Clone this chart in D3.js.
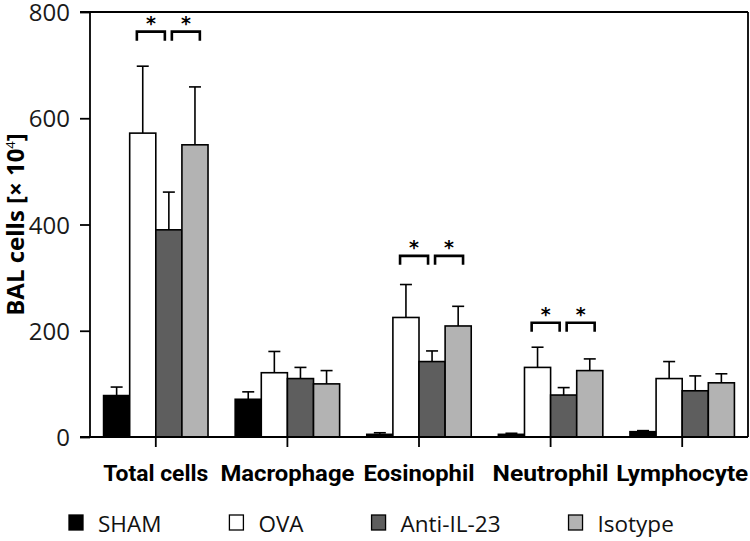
<!DOCTYPE html>
<html>
<head>
<meta charset="utf-8">
<script src="https://cdn.jsdelivr.net/npm/d3@7"></script>
<style>
  html, body { margin: 0; padding: 0; background: #fff; }
  svg { display: block; }
</style>
</head>
<body>
<svg id="chart" width="750" height="541"></svg>
<script>
// ---- data ----
const categories = ["Total cells", "Macrophage", "Eosinophil", "Neutrophil", "Lymphocyte"];
const seriesNames = ["SHAM", "OVA", "Anti-IL-23", "Isotype"];
const shamMean = [78, 71, 5, 5, 10];
const shamErrTop = [94, 85, 8, 7, 12];
const ovaMean = [572, 121, 225, 131, 110];
const ovaErrTop = [698, 161, 287, 169, 142];
const antiMean = [390, 110, 142, 79, 87];
const antiErrTop = [461, 131, 162, 93, 115];
const isoMean = [550, 100, 209, 125, 102];
const isoErrTop = [659, 125, 246, 147, 119];
const yTicks = [0, 200, 400, 600, 800];
const sigCategories = ["Total cells", "Eosinophil", "Neutrophil"];
const sigLevels = [763, 341, 215];

// ---- styles ----
const fills = ["#000000", "#ffffff", "#5e5e5e", "#b3b3b3"];
const means = [shamMean, ovaMean, antiMean, isoMean];
const errTops = [shamErrTop, ovaErrTop, antiErrTop, isoErrTop];

const svg = d3.select("#chart");
const mLeft = 90, mRight = 748, mTop = 12, mBottom = 437;

const x = d3.scaleBand().domain(categories).range([mLeft, mRight]).paddingInner(0).paddingOuter(0);
const xs = d3.scaleBand().domain(seriesNames).range([0, x.bandwidth()]).paddingInner(0).paddingOuter(0.52);
const y = d3.scaleLinear().domain([0, 800]).range([mBottom, mTop]);

const rows = [];
categories.forEach((c, ci) => {
  seriesNames.forEach((s, si) => {
    rows.push({ cat: c, ser: s, si, v: means[si][ci], e: errTops[si][ci] });
  });
});

// error bars (drawn behind bars)
const eg = svg.append("g").attr("stroke", "#000").attr("stroke-width", 1.6);
rows.forEach(d => {
  const cx = x(d.cat) + xs(d.ser) + xs.bandwidth() / 2;
  eg.append("line").attr("x1", cx).attr("x2", cx).attr("y1", y(d.v)).attr("y2", y(d.e));
  eg.append("line").attr("x1", cx - 6).attr("x2", cx + 6).attr("y1", y(d.e)).attr("y2", y(d.e));
});

// bars
svg.append("g").selectAll("rect").data(rows).join("rect")
  .attr("x", d => x(d.cat) + xs(d.ser))
  .attr("y", d => y(d.v))
  .attr("width", xs.bandwidth())
  .attr("height", d => y(0) - y(d.v))
  .attr("fill", d => fills[d.si])
  .attr("stroke", "#000")
  .attr("stroke-width", 1.6);

// frame / axes
const ax = svg.append("g").attr("stroke", "#000").attr("stroke-width", 1.8).attr("fill", "none");
ax.append("line").attr("x1", mLeft).attr("x2", mLeft).attr("y1", mTop).attr("y2", mBottom);
ax.append("line").attr("x1", mLeft - 10).attr("x2", mRight).attr("y1", mTop).attr("y2", mTop);
ax.append("line").attr("x1", mRight).attr("x2", mRight).attr("y1", mTop).attr("y2", mBottom);
ax.append("line").attr("x1", mLeft - 10).attr("x2", mRight).attr("y1", mBottom).attr("y2", mBottom);

// y axis
const yAxis = svg.append("g").attr("transform", `translate(${mLeft},0)`)
  .call(d3.axisLeft(y).tickValues(yTicks).tickSize(10).tickPadding(10).tickFormat(d3.format("d")));
yAxis.select(".domain").remove();
yAxis.selectAll(".tick line").attr("stroke", "#000").attr("stroke-width", 1.8);
yAxis.selectAll(".tick text")
  .attr("font-family", "'Open Sans', 'Noto Sans', sans-serif")
  .attr("font-size", 24).attr("font-weight", 400).attr("fill", "#1a1a1a")
  .attr("dy", "0.36em");

// x axis
const xAxis = svg.append("g").attr("transform", `translate(0,${mBottom})`)
  .call(d3.axisBottom(x).tickSize(10).tickPadding(18));
xAxis.select(".domain").remove();
xAxis.selectAll(".tick line").attr("stroke", "#000").attr("stroke-width", 1.8);
const catWidths = { "Total cells": 105, "Macrophage": 134, "Eosinophil": 111, "Neutrophil": 116, "Lymphocyte": 132 };
xAxis.selectAll(".tick text")
  .attr("font-family", "'Liberation Sans Narrow', 'Roboto', sans-serif")
  .attr("font-size", 22).attr("font-weight", "bold").attr("fill", "#000")
  .attr("textLength", d => catWidths[d]).attr("lengthAdjust", "spacingAndGlyphs");

// y title
const yt = svg.append("text")
  .attr("transform", `translate(24,${(mTop + mBottom) / 2}) rotate(-90)`)
  .attr("text-anchor", "middle")
  .attr("font-family", "'Open Sans', 'Noto Sans', sans-serif")
  .attr("font-size", 24).attr("font-weight", "bold").attr("fill", "#000");
yt.append("tspan").text("BAL cells [× 10");
yt.append("tspan").attr("font-size", 13).attr("font-weight", 400).attr("dy", -9).text("4");
yt.append("tspan").attr("dy", 9).text("]");

// significance brackets
const bg = svg.append("g");
sigCategories.forEach((c, i) => {
  const anti = x(c) + xs("Anti-IL-23") + xs.bandwidth() / 2;
  const yy = y(sigLevels[i]);
  const pairs = [[anti - 32, anti - 4], [anti + 3, anti + 31]];
  pairs.forEach(([a, b]) => {
    bg.append("path")
      .attr("d", `M${a},${yy + 9}V${yy}H${b}V${yy + 9}`)
      .attr("fill", "none").attr("stroke", "#000").attr("stroke-width", 2.6);
    bg.append("text")
      .attr("x", (a + b) / 2).attr("y", yy - 2)
      .attr("text-anchor", "middle")
      .attr("font-family", "'DejaVu Sans', sans-serif")
      .attr("font-size", 19).attr("font-weight", "bold")
      .text("*");
  });
});

// legend
const lg = svg.append("g");
let lx = 69;
seriesNames.forEach((s, i) => {
  lg.append("rect").attr("x", lx).attr("y", 515).attr("width", 14).attr("height", 15)
    .attr("fill", fills[i]).attr("stroke", "#000").attr("stroke-width", 1.3);
  const t = lg.append("text").attr("x", lx + 29).attr("y", 532)
    .attr("font-family", "'Open Sans', 'Noto Sans', sans-serif")
    .attr("font-size", 22.5).attr("font-weight", 400).attr("fill", "#111").text(s);
  lx = lx + 29 + t.node().getComputedTextLength() + 68;
});
</script>
</body>
</html>
